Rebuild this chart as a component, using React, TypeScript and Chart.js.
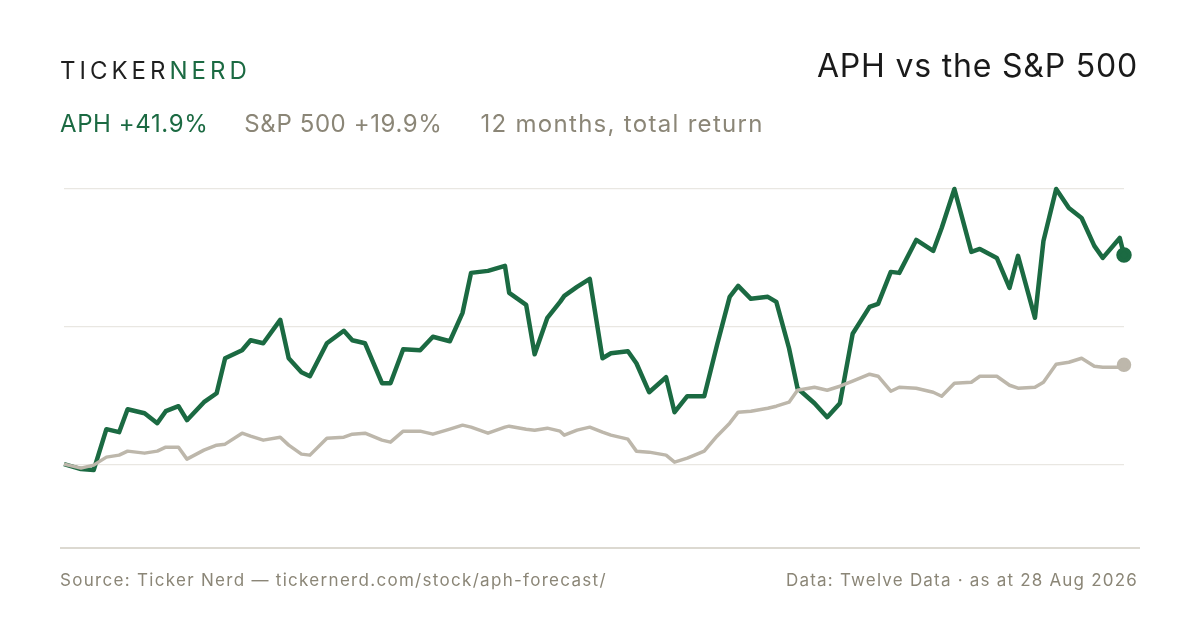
import React, { useEffect, useRef } from "react";
import { Chart, registerables } from "chart.js";
Chart.register(...registerables);

const days = [0,4,7,10,13,15,19,22,24,27,29,33,36,38,42,44,47,51,53,56,58,62,66,68,71,75,77,80,84,87,91,94,96,100,104,105,109,111,114,117,118,121,124,127,129,133,135,138,142,144,147,151,154,157,159,162,166,168,171,173,177,180,183,186,190,192,195,197,201,205,207,210,214,216,220,223,225,229,231,234,237,240,243,245,249,250];
const aph = [0,-1.0,-1.2,7.0,6.4,11.0,10.2,8.2,10.6,11.6,8.8,12.4,14.2,21.2,22.8,24.8,24.2,28.9,21.2,18.4,17.6,24.2,26.7,24.8,24.2,16.2,16.2,23.0,22.8,25.5,24.6,30.3,38.3,38.7,39.7,34.3,31.9,22.0,29.3,32.5,33.7,35.5,37.1,21.2,22.2,22.6,20.2,14.4,17.4,10.4,13.6,13.6,23.8,33.5,35.7,33.1,33.5,32.5,23.2,15.2,12.2,9.4,12.2,26.1,31.5,32.1,38.5,38.3,44.9,42.7,47.3,55.1,42.5,43.1,41.3,35.3,41.7,29.3,44.7,55.1,51.3,49.3,43.7,41.3,45.3,41.9];
const spx = [0,-0.8,-0.2,1.4,1.8,2.6,2.2,2.6,3.4,3.4,1.0,2.8,3.8,4.0,6.2,5.6,4.8,5.4,3.8,2.0,1.8,5.2,5.4,6.0,6.2,4.8,4.4,6.6,6.6,6.0,7.0,7.8,7.4,6.2,7.4,7.6,7.0,6.8,7.2,6.6,5.8,6.8,7.4,6.4,5.8,5.0,2.6,2.4,1.8,0.4,1.2,2.6,5.6,8.2,10.4,10.6,11.2,11.6,12.4,14.8,15.4,14.8,15.6,16.6,18.0,17.6,14.6,15.4,15.2,14.4,13.6,16.2,16.4,17.6,17.6,15.8,15.2,15.4,16.4,20.0,20.4,21.2,19.6,19.4,19.4,19.9];
const gridValues = [0, 27.55, 55.1];

const GREEN = "#1b6a42";
const GREY = "#bdb7ab";
const MUTED = "#8b8677";

export default function App() {
  const ref = useRef<HTMLCanvasElement>(null);
  useEffect(() => {
    const last = days.length - 1;
    const chart = new Chart(ref.current!, {
      type: "line",
      data: {
        datasets: [
          {
            data: days.map((d, i) => ({ x: d, y: spx[i] })),
            borderColor: GREY, backgroundColor: GREY, borderWidth: 3.5,
            pointRadius: days.map((_, i) => (i === last ? 5.5 : 0)),
            tension: 0, borderJoinStyle: "round",
          },
          {
            data: days.map((d, i) => ({ x: d, y: aph[i] })),
            borderColor: GREEN, backgroundColor: GREEN, borderWidth: 4.5,
            pointRadius: days.map((_, i) => (i === last ? 5.5 : 0)),
            tension: 0, borderJoinStyle: "round",
          },
        ],
      },
      options: {
        animation: false, responsive: false, clip: false as any,
        layout: { padding: { left: 64, right: 76, top: 189, bottom: 82 } },
        plugins: { legend: { display: false }, tooltip: { enabled: false } },
        scales: {
          x: { type: "linear", min: 0, max: 250, display: false },
          y: {
            min: -16.8, max: 55.1,
            afterBuildTicks: (s: any) => { s.ticks = gridValues.map((v) => ({ value: v })); },
            ticks: { display: false },
            border: { display: false },
            grid: { color: "#e9e7e2", lineWidth: 1.2, drawTicks: false },
          },
        },
      },
    });
    return () => chart.destroy();
  }, []);

  const font = "Inter, 'Noto Sans', sans-serif";
  return (
    <div style={{ position: "relative", width: 1200, height: 630, margin: -8, background: "#fff", fontFamily: font, overflow: "hidden" }}>
      <canvas ref={ref} width={1200} height={630} style={{ position: "absolute", left: 0, top: 0 }} />
      <div style={{ position: "absolute", left: 60, top: 56, fontSize: 24, letterSpacing: 4, color: "#1f1f1f" }}>
        TICKER<span style={{ color: GREEN }}>NERD</span>
      </div>
      <div style={{ position: "absolute", right: 62, top: 46, fontSize: 32, letterSpacing: 0.8, color: "#1a1a1a" }}>APH vs the S&amp;P 500</div>
      <div style={{ position: "absolute", left: 60, top: 109, fontSize: 24, letterSpacing: 0.6, color: MUTED, whiteSpace: "nowrap" }}>
        <span style={{ color: GREEN }}>APH +41.9%</span>
        <span style={{ marginLeft: 36 }}>S&amp;P 500 +19.9%</span>
        <span style={{ marginLeft: 38, letterSpacing: 1.3 }}>12 months, total return</span>
      </div>
      <div style={{ position: "absolute", left: 60, width: 1080, top: 547, height: 1.5, background: "#dcd9d1" }} />
      <div style={{ position: "absolute", left: 60, top: 570, fontSize: 17, letterSpacing: 1.3, color: MUTED, whiteSpace: "nowrap" }}>Source: Ticker Nerd — tickernerd.com/stock/aph-forecast/</div>
      <div style={{ position: "absolute", right: 62, top: 570, fontSize: 17, letterSpacing: 1.2, color: MUTED, whiteSpace: "nowrap" }}>Data: Twelve Data · as at 28 Aug 2026</div>
    </div>
  );
}
